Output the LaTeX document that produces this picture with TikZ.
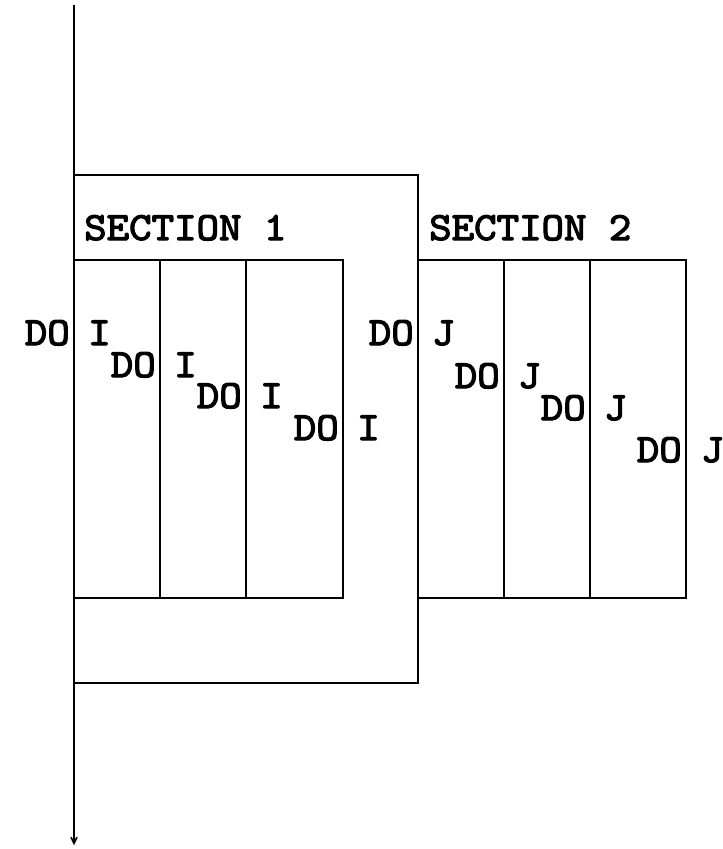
\documentclass[tikz,border=0pt]{standalone}
\usepackage{fontspec}
\newfontfamily\codefont[FakeBold=3,FakeStretch=1.07]{lmmono10-regular.otf}
\usetikzlibrary{arrows.meta}

\begin{document}
\begin{tikzpicture}[
  x=1pt,
  y=-1pt,
  line/.style={draw=black,line width=1.6pt},
  flow/.style={line,-{Straight Barb[length=6pt,width=6pt]}},
  code/.style={font=\codefont\fontsize{40}{40}\selectfont,inner sep=0pt},
  keyword/.style={code,anchor=base east},
  index/.style={code,anchor=base west}
]
\useasboundingbox (0,0) rectangle (723,849);

% Program flow
\coordinate (start) at (74,5);
\coordinate (stop) at (74,845);
\draw[flow] (start) -- (stop);

% Section 1
\draw[line] (74,175) rectangle (418,683);
\draw[line] (74,260) rectangle (343,598);
\draw[line] (160,260) -- (160,598);
\draw[line] (246,260) -- (246,598);
\node[code,anchor=base west] (sec1) at (84,240) {SECTION 1};

% Section 2
\draw[line] (418,260) rectangle (686,598);
\draw[line] (504,260) -- (504,598);
\draw[line] (590,260) -- (590,598);
\node[code,anchor=base west] (sec2) at (429,240) {SECTION 2};

% Loops over I
\node[keyword] (doi1) at (70,345) {DO};
\node[index] (i1) at (88,345) {I};
\node[keyword] (doi2) at (156,377) {DO};
\node[index] (i2) at (174,377) {I};
\node[keyword] (doi3) at (242,408) {DO};
\node[index] (i3) at (260,408) {I};
\node[keyword] (doi4) at (339,440) {DO};
\node[index] (i4) at (357,440) {I};

% Loops over J
\node[keyword] (doj1) at (414,345) {DO};
\node[index] (j1) at (432,345) {J};
\node[keyword] (doj2) at (500,388) {DO};
\node[index] (j2) at (518,388) {J};
\node[keyword] (doj3) at (586,420) {DO};
\node[index] (j3) at (604,420) {J};
\node[keyword] (doj4) at (682,462) {DO};
\node[index] (j4) at (701,462) {J};

\end{tikzpicture}
\end{document}
